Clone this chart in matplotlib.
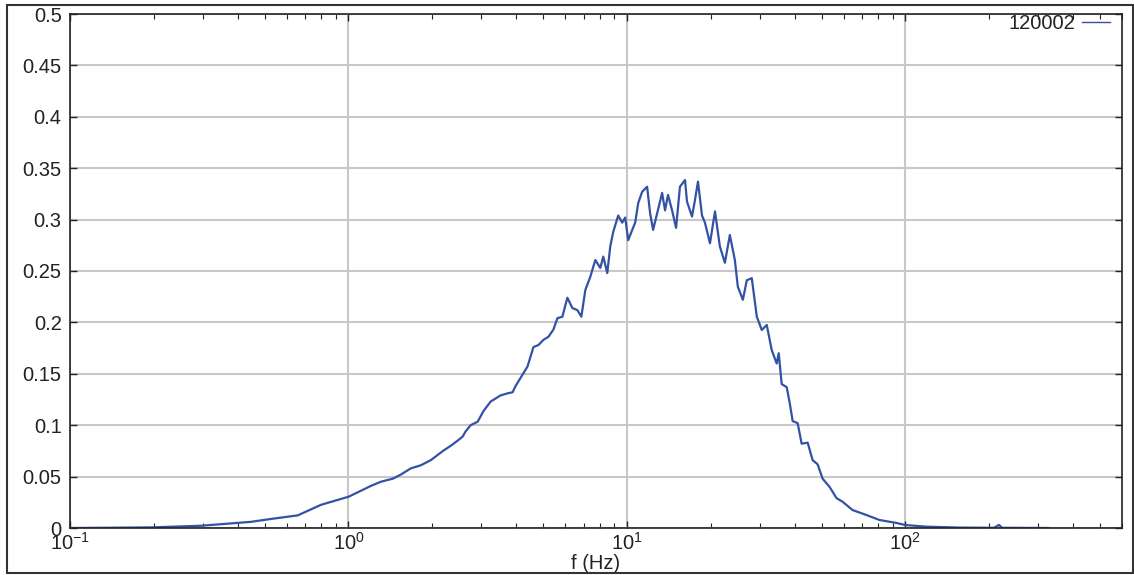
import math
import matplotlib
matplotlib.use("Agg")
import matplotlib.pyplot as plt
from matplotlib.patches import Rectangle
from matplotlib.ticker import FixedLocator, LogLocator, NullFormatter, FuncFormatter

plt.rcParams["font.family"] = ["Liberation Sans", "DejaVu Sans"]
plt.rcParams["mathtext.fontset"] = "custom"
plt.rcParams["mathtext.rm"] = "Liberation Sans"
plt.rcParams["mathtext.it"] = "Liberation Sans"

# Spectrum of channel 120002
series_name = "120002"
freq_hz = [
    0.1, 0.1297, 0.196, 0.296, 0.447, 0.527, 0.658, 0.796, 1.003, 1.205,
    1.308, 1.444, 1.543, 1.675, 1.819, 1.976, 2.199, 2.330, 2.468, 2.572,
    2.636, 2.747, 2.911, 3.059, 3.241, 3.519, 3.728, 3.885, 3.981, 4.150,
    4.395, 4.618, 4.813, 5.015, 5.226, 5.446, 5.628, 5.866, 6.112, 6.370,
    6.637, 6.862, 7.093, 7.392, 7.703, 8.025, 8.226, 8.503, 8.715, 8.931,
    9.309, 9.620, 9.861, 10.11, 10.45, 10.71, 10.98, 11.34, 11.82, 12.12,
    12.42, 12.84, 13.38, 13.71, 14.05, 14.53, 15.02, 15.51, 16.17, 16.44,
    17.13, 17.56, 18.00, 18.61, 19.07, 19.88, 20.72, 21.58, 22.49, 23.43,
    24.42, 25.03, 26.09, 26.96, 28.09, 29.28, 30.51, 31.79, 33.13, 34.52,
    35.10, 35.97, 37.49, 38.42, 39.39, 41.05, 42.42, 44.60, 46.45, 48.41,
    50.45, 53.45, 56.62, 59.49, 64.61, 72.53, 80.72, 92.86, 100.0, 118.9,
    156.1, 208.3, 217.0, 222.5, 325.1,
]
amplitude = [
    0.0, 0.0002, 0.0006, 0.0022, 0.006, 0.0088, 0.0123, 0.0225, 0.0305, 0.041,
    0.045, 0.048, 0.052, 0.058, 0.061, 0.066, 0.0755, 0.080, 0.085, 0.089,
    0.094, 0.100, 0.1034, 0.114, 0.123, 0.129, 0.131, 0.132, 0.138, 0.146,
    0.157, 0.176, 0.178, 0.183, 0.186, 0.193, 0.204, 0.2056, 0.224, 0.214,
    0.212, 0.2056, 0.2315, 0.2445, 0.2607, 0.253, 0.264, 0.248, 0.2737, 0.288,
    0.304, 0.297, 0.302, 0.280, 0.290, 0.297, 0.316, 0.327, 0.332, 0.306,
    0.290, 0.306, 0.326, 0.309, 0.324, 0.309, 0.292, 0.332, 0.3385, 0.3175,
    0.303, 0.319, 0.337, 0.304, 0.297, 0.277, 0.308, 0.2737, 0.258, 0.285,
    0.2607, 0.2347, 0.222, 0.241, 0.243, 0.2056, 0.1926, 0.1975, 0.173, 0.160,
    0.170, 0.140, 0.137, 0.122, 0.104, 0.102, 0.082, 0.083, 0.066, 0.062,
    0.048, 0.040, 0.029, 0.0256, 0.0175, 0.0126, 0.0078, 0.0049, 0.0029, 0.0013,
    0.0004, 0.0002, 0.003, 0.0002, 0.0,
]

y_ticks = [0, 0.05, 0.1, 0.15, 0.2, 0.25, 0.3, 0.35, 0.4, 0.45, 0.5]
x_ticks = [0.1, 1, 10, 100]
x_limits = (0.1, 600)
y_limits = (0, 0.5)

W, H = 1134, 575
fig = plt.figure(figsize=(W / 100, H / 100), dpi=100)
ax = fig.add_axes([70 / W, (H - 528) / H, (1122 - 70) / W, (528 - 14) / H])

line_color = "#3352a5"
ax.plot(freq_hz, amplitude, color=line_color, lw=1.6, label=series_name)

ax.set_xscale("log")
ax.set_xlim(*x_limits)
ax.set_ylim(*y_limits)

text_color = "#222222"
fs = 14.5


def decade_label(v, pos):
    return r"$\mathregular{10^{%d}}$" % round(math.log10(v))


ax.xaxis.set_major_locator(FixedLocator(x_ticks))
ax.xaxis.set_major_formatter(FuncFormatter(decade_label))
ax.xaxis.set_minor_locator(LogLocator(base=10, subs=range(2, 10)))
ax.xaxis.set_minor_formatter(NullFormatter())
ax.yaxis.set_major_locator(FixedLocator(y_ticks))
ax.yaxis.set_major_formatter(FuncFormatter(lambda v, p: "%g" % v))

ax.grid(True, which="major", color="#c8c8c8", lw=1.5)
ax.set_axisbelow(True)

ax.tick_params(axis="both", which="both", direction="in", top=True, right=True,
               colors=text_color, labelcolor=text_color, labelsize=fs)
ax.tick_params(axis="both", which="major", length=5, width=1)
ax.tick_params(axis="x", which="minor", length=3.5, width=0.8)
ax.tick_params(axis="x", which="major", pad=3)
ax.tick_params(axis="y", which="major", pad=6)

for s in ax.spines.values():
    s.set_color(text_color)
    s.set_linewidth(1.2)

ax.set_xlabel("f (Hz)", fontsize=fs, color=text_color, labelpad=0)

leg = ax.legend(loc="upper right", frameon=False, markerfirst=False,
                fontsize=fs, handlelength=1.4, handletextpad=0.35,
                borderaxespad=0.0, borderpad=0.0,
                bbox_to_anchor=(1 - 12 / (1122 - 70), 1.0))
for t in leg.get_texts():
    t.set_color(text_color)
for h in leg.get_lines():
    h.set_linewidth(1.0)

# outer frame around the whole figure
fig.patches.append(Rectangle((7 / W, (H - 573) / H), (1133 - 7) / W, (573 - 5) / H,
                             transform=fig.transFigure, fill=False,
                             edgecolor="#333333", lw=1.5))

fig.savefig("out.png", dpi=100)
